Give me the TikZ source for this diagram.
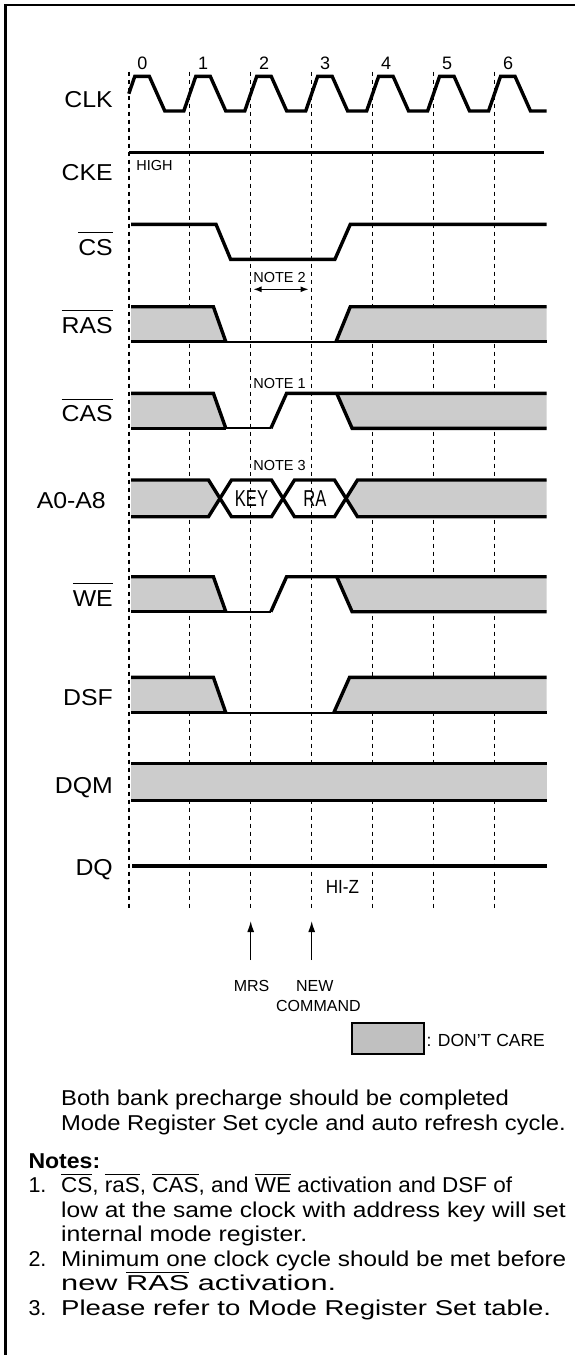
\documentclass[tikz,border=0pt]{standalone}
\usepackage{fontspec}
\setmainfont{Liberation Sans}
\newfontfamily\lblsans{Liberation Sans}[FakeStretch=1.08]
\newfontfamily\plainsans{Liberation Sans}
\newfontfamily\narrowsans{Liberation Sans}[FakeStretch=0.72]
\newfontfamily\hizsans{Liberation Sans}[FakeStretch=0.9]
\usetikzlibrary{arrows.meta}
\definecolor{dcgray}{HTML}{CCCCCC}
\definecolor{boxgray}{HTML}{C0C0C0}
\newcommand\ovl[2][2.5pt]{\setbox0\hbox{#2}\rlap{\raisebox{\dimexpr\ht0+#1\relax}{\rule{\wd0}{1pt}}}\box0\relax}
\newcommand\fitto[2]{\resizebox{#1}{\height}{#2}}
\begin{document}
\begin{tikzpicture}[x=1pt,y=-1pt,
  lbl/.style={anchor=base east,inner sep=0pt,font=\lblsans\fontsize{23}{27}\selectfont},
  small/.style={inner sep=0pt,font=\plainsans\fontsize{14.5}{17}\selectfont},
  num/.style={inner sep=0pt,font=\plainsans\fontsize{18}{21}\selectfont},
  mid/.style={inner sep=0pt,font=\plainsans\fontsize{16}{19}\selectfont},
  body/.style={anchor=base west,inner sep=0pt,font=\fontsize{21.5}{25}\selectfont},
  addr/.style={inner sep=0pt,font=\narrowsans\fontsize{23}{27}\selectfont},
  sig/.style={line width=3.4pt},
  sigthin/.style={line width=2.2pt},
  dc/.style={fill=dcgray,draw=none},
  gridline/.style={line width=1.4pt,dash pattern=on 4pt off 4pt},
  marker/.style={line width=1.3pt,-{Latex[length=11pt,width=7pt]}},
  span/.style={line width=1.2pt,{Latex[length=8pt,width=6pt]}-{Latex[length=8pt,width=6pt]}}]
\useasboundingbox (0,0) rectangle (574,1355);
% frame
\draw[line width=2.2pt] (5.5,1360) -- (5.5,5) -- (580,5);
% clock grid
\foreach \k in {0,...,6}
  \draw[gridline] ({128.8+60.95*\k},71.7) -- ({128.8+60.95*\k},908.3);
\foreach \k in {0,...,6}
  \node[num] (n\k) at ({142.3+60.95*\k},63.3) {\k};
% CLK
\draw[sig] (128.8,93.7) -- (134.8,76.3)
  foreach \k in {0,...,5} { -- ({149.3+60.95*\k},76.3) -- ({164.8+60.95*\k},111) -- ({183.8+60.95*\k},111) -- ({195.8+60.95*\k},76.3) }
  -- (515,76.3) -- (530.5,111) -- (546.5,111);
% CKE
\draw[sig] (128.8,152.7) -- (544.3,152.7);
% CS
\draw[sig] (131,224.3) -- (216,224.3) -- (230.6,259.3) -- (334.9,259.3) -- (350.3,224.3) -- (546.5,224.3);
% RAS
\fill[dc] (131,306.7) -- (213.4,306.7) -- (225.8,341.7) -- (131,341.7) -- cycle;
\fill[dc] (336,341.7) -- (350.3,306.7) -- (546.5,306.7) -- (546.5,341.7) -- cycle;
\draw[sig] (131,306.7) -- (213.4,306.7) -- (225.8,341.7);
\draw[sig] (131,341.7) -- (225.8,341.7);
\draw[sigthin] (225.8,341.7) -- (336,341.7);
\draw[sig] (336,341.7) -- (546.5,341.7);
\draw[sig] (336,341.7) -- (350.3,306.7) -- (546.5,306.7);
% CAS
\fill[dc] (131,393.3) -- (213.4,393.3) -- (225.8,428.3) -- (131,428.3) -- cycle;
\fill[dc] (336.7,393.3) -- (546.5,393.3) -- (546.5,428.3) -- (352.1,428.3) -- cycle;
\draw[sig] (131,393.3) -- (213.4,393.3) -- (225.8,428.3);
\draw[sig] (131,428.3) -- (225.8,428.3);
\draw[sigthin] (225.8,428.3) -- (270.9,428.3);
\draw[sig] (270.9,428.3) -- (286.6,393.3) -- (546.5,393.3);
\draw[sig] (336.7,393.3) -- (352.1,428.3) -- (546.5,428.3);
% A0-A8
\fill[dc] (131,480) -- (208.5,480) -- (220,498.3) -- (208.5,516.7) -- (131,516.7) -- cycle;
\fill[dc] (346,498.3) -- (357.5,480) -- (546.5,480) -- (546.5,516.7) -- (357.5,516.7) -- cycle;
\draw[sig] (131,480) -- (208.5,480) -- (231.5,516.7) -- (271.5,516.7) -- (294.5,480) -- (334.5,480) -- (357.5,516.7) -- (546.5,516.7);
\draw[sig] (131,516.7) -- (208.5,516.7) -- (231.5,480) -- (271.5,480) -- (294.5,516.7) -- (334.5,516.7) -- (357.5,480) -- (546.5,480);
\node[addr] (key) at (251.5,498.3) {KEY};
\node[addr] (ra) at (314.8,498.3) {RA};
% WE
\fill[dc] (131,576.7) -- (213.4,576.7) -- (225.8,611.7) -- (131,611.7) -- cycle;
\fill[dc] (336.7,576.7) -- (546.5,576.7) -- (546.5,611.7) -- (352.1,611.7) -- cycle;
\draw[sig] (131,576.7) -- (213.4,576.7) -- (225.8,611.7);
\draw[sig] (131,611.7) -- (225.8,611.7);
\draw[sigthin] (225.8,611.7) -- (270.9,611.7);
\draw[sig] (270.9,611.7) -- (286.6,576.7) -- (546.5,576.7);
\draw[sig] (336.7,576.7) -- (352.1,611.7) -- (546.5,611.7);
% DSF
\fill[dc] (131,677.3) -- (213.4,677.3) -- (225.8,712.7) -- (131,712.7) -- cycle;
\fill[dc] (333.8,712.7) -- (349.6,677.3) -- (546.5,677.3) -- (546.5,712.7) -- cycle;
\draw[sig] (131,677.3) -- (213.4,677.3) -- (225.8,712.7);
\draw[sig] (131,712.7) -- (225.8,712.7);
\draw[sigthin] (225.8,712.7) -- (333.8,712.7);
\draw[sig] (333.8,712.7) -- (546.5,712.7);
\draw[sig] (333.8,712.7) -- (349.6,677.3) -- (546.5,677.3);
% DQM
\fill[dc] (131,763.3) rectangle (546.5,800.7);
\draw[sig] (131,763.3) -- (546.5,763.3);
\draw[sig] (131,800.7) -- (546.5,800.7);
% DQ
\draw[sig] (132,866) -- (546.5,866);
% signal labels
\node[lbl] (lclk) at (113,107) {CLK};
\node[lbl] (lcke) at (113,180) {CKE};
\node[lbl] (lcs) at (113,255) {\ovl[6pt]{CS}};
\node[lbl] (lras) at (113,333.3) {\ovl[6pt]{RAS}};
\node[lbl] (lcas) at (113,421.6) {\ovl[6pt]{CAS}};
\node[lbl] (laddr) at (106,508.3) {A0-A8};
\node[lbl] (lwe) at (113,606.3) {\ovl[6pt]{WE}};
\node[lbl] (ldsf) at (113,705) {DSF};
\node[lbl] (ldqm) at (113,793.3) {DQM};
\node[lbl] (ldq) at (113,875) {DQ};
% small labels
\node[small,anchor=base west] (high) at (136.2,170.9) {HIGH};
\node[small] (note2) at (279.5,277.3) {NOTE 2};
\coordinate (n2l) at (253.5,289.3);
\coordinate (n2r) at (308.5,289.3);
\draw[span] (n2l) -- (n2r);
\node[small] (note1) at (279.5,383.3) {NOTE 1};
\node[small] (note3) at (279.5,466) {NOTE 3};
\node[inner sep=0pt,font=\hizsans\fontsize{19}{22}\selectfont] (hiz) at (342.4,886.7) {HI-Z};
% command markers
\coordinate (mrsT) at (250.7,960);
\coordinate (mrsH) at (250.7,921);
\coordinate (newT) at (311.7,960);
\coordinate (newH) at (311.7,921);
\draw[marker] (mrsT) -- (mrsH);
\draw[marker] (newT) -- (newH);
\node[mid] (mrs) at (251.6,986) {MRS};
\node[mid] (new) at (314.8,986) {NEW};
\node[mid] (cmd) at (318.4,1005.5) {COMMAND};
% legend
\node[draw,line width=2pt,fill=boxgray,minimum width=72pt,minimum height=30.5pt,inner sep=0pt] (dcbox) at (387.65,1038.7) {};
\node[inner sep=0pt,anchor=base west,font=\plainsans\fontsize{17.5}{20}\selectfont] (dclbl) at (426.4,1046) {: DON’T CARE};
% text
\node[body] (p1) at (61,1105) {\fitto{447.8pt}{Both bank precharge should be completed}};
\node[body] (p2) at (61,1130) {\fitto{504.5pt}{Mode Register Set cycle and auto refresh cycle.}};
\node[body,font=\bfseries\fontsize{21.5}{25}\selectfont] (nh) at (28.3,1168) {\fitto{71.7pt}{Notes:}};
\node[body] (n1a) at (28.3,1192.5) {1.};
\node[body] (n1b) at (61,1192.5) {\fitto{451pt}{\ovl{CS}, \ovl{raS}, \ovl{CAS}, and \ovl{WE} activation and DSF of}};
\node[body] (n1c) at (61,1217) {\fitto{504.5pt}{low at the same clock with address key will set}};
\node[body] (n1d) at (61,1241.5) {\fitto{246pt}{internal mode register.}};
\node[body] (n2a) at (28.3,1266) {2.};
\node[body] (n2b) at (61,1266) {\fitto{505pt}{Minimum one clock cycle should be met before}};
\node[body] (n2c) at (61,1290.5) {\fitto{275pt}{new \ovl{RAS} activation.}};
\node[body] (n3a) at (28.3,1315) {3.};
\node[body] (n3b) at (61,1315) {\fitto{490pt}{Please refer to Mode Register Set table.}};
\end{tikzpicture}
\end{document}
